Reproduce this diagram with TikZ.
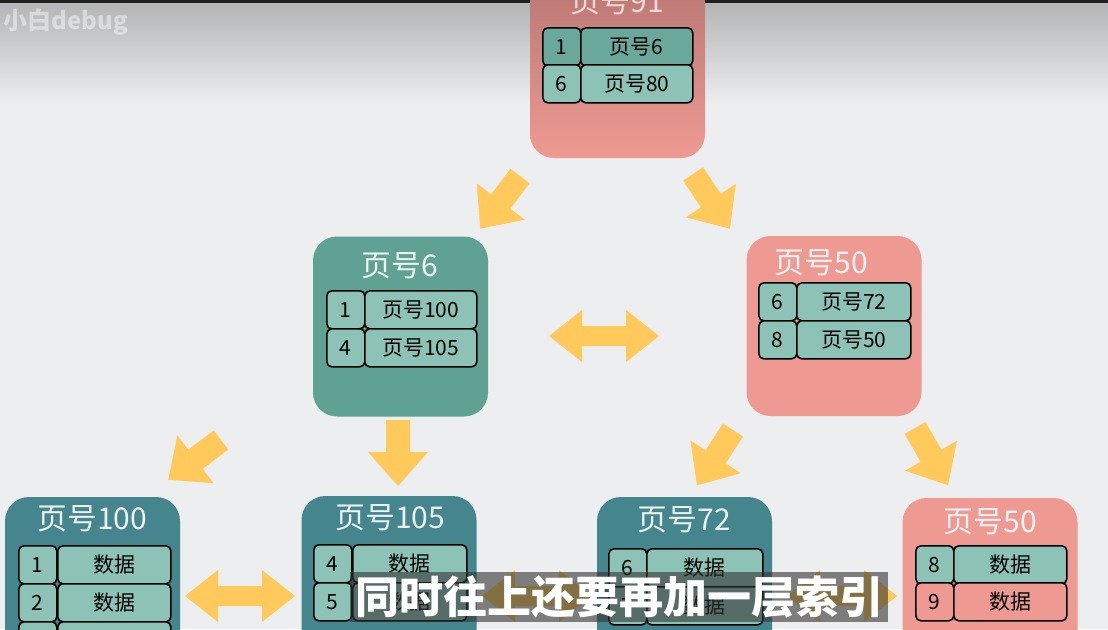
\documentclass[tikz,border=0pt]{standalone}
\usepackage{fontspec}
\setmainfont{Noto Sans CJK SC}
\usepackage{tikz}
\usetikzlibrary{positioning}
\definecolor{bgcol}{HTML}{ECEEF0}
\definecolor{bgtop}{HTML}{B2B3B5}
\definecolor{arrowyellow}{HTML}{FFC95C}
\definecolor{pinkbox}{HTML}{EE9A92}
\definecolor{pinktop}{HTML}{B97773}
\definecolor{tealmid}{HTML}{5FA193}
\definecolor{tealdark}{HTML}{44858E}
\definecolor{cellteal}{HTML}{8CC3B6}
\definecolor{celltop}{HTML}{6BA89C}
\definecolor{titlelight}{HTML}{EEF3F1}

\tikzset{
  pagebox/.style={rounded corners=24pt, minimum width=175pt, minimum height=180pt, inner sep=0pt},
  ptitle/.style={text=titlelight, font=\fontsize{30}{30}\selectfont, inner sep=0pt},
  keycell/.style={draw=black, line width=1.6pt, rounded corners=5pt, fill=cellteal,
    minimum width=38pt, minimum height=38pt, inner sep=1pt, anchor=north west,
    font=\fontsize{21}{21}\selectfont},
  valcell/.style={keycell, minimum width=112pt},
  onearrow/.pic={
    \fill[arrowyellow] (0,-12) -- (32,-12) -- (32,-30) -- (66,0) -- (32,30)
      -- (32,12) -- (0,12) -- cycle;
  },
  twoarrow/.pic={
    \fill[arrowyellow] (-55,0) -- (-22,-26) -- (-22,-10) -- (22,-10) -- (22,-26)
      -- (55,0) -- (22,26) -- (22,10) -- (-22,10) -- (-22,26) -- cycle;
  }
}

\begin{document}
\begin{tikzpicture}[x=1pt, y=-1pt]
  \useasboundingbox (0,0) rectangle (1108,629);
  \clip (0,0) rectangle (1108,629);
  \fill[bgcol] (0,0) rectangle (1108,629);
  \shade[top color=bgtop, bottom color=bgcol] (0,0) rectangle (1108,105);
  \fill[black!75!gray] (0,0) rectangle (1108,3);
  \node[text=white, opacity=0.45, font=\bfseries\fontsize{24}{24}\selectfont, anchor=west] (mark) at (0,22) {小白debug};

  % root page
  \node[pagebox, top color=pinktop, bottom color=pinkbox] (p91) at (617.5,68) {};
  \node[ptitle, text=titlelight!70!pinkbox] (p91t) at (617,2) {页号91};
  \foreach \r/\k/\v/\c [count=\i] in {27/1/页号6/celltop, 64/6/页号80/cellteal}{
    \node[keycell, fill=\c] (p91k\i) at (542,\r) {\k};
    \node[valcell, fill=\c] (p91v\i) at (580,\r) {\v};
  }

  % second level
  \node[pagebox, fill=tealmid] (p6) at (400.5,326.5) {};
  \node[ptitle] (p6t) at (400,266) {页号6};
  \foreach \r/\k/\v [count=\i] in {290/1/页号100, 328/4/页号105}{
    \node[keycell] (p6k\i) at (326,\r) {\k};
    \node[valcell] (p6v\i) at (364,\r) {\v};
  }

  \node[pagebox, fill=pinkbox] (p50) at (834,326) {};
  \node[ptitle] (p50t) at (821,263) {页号50};
  \foreach \r/\k/\v [count=\i] in {282/6/页号72, 320/8/页号50}{
    \node[keycell] (p50k\i) at (758,\r) {\k};
    \node[valcell, minimum width=114pt] (p50v\i) at (796,\r) {\v};
  }

  % leaf pages
  \node[pagebox, fill=tealdark] (p100) at (92.5,587) {};
  \node[ptitle] (p100t) at (92,519) {页号100};
  \foreach \r/\k/\v [count=\i] in {545/1/数据, 583/2/数据, 621//}{
    \node[keycell] (p100k\i) at (18,\r) {\k};
    \node[valcell, minimum width=113pt] (p100v\i) at (57,\r) {\v};
  }

  \node[pagebox, fill=tealdark] (p105) at (389,586) {};
  \node[ptitle] (p105t) at (390,518) {页号105};
  \foreach \r/\k/\v [count=\i] in {544/4/数据, 582/5/数据}{
    \node[keycell] (p105k\i) at (313,\r) {\k};
    \node[valcell, minimum width=114pt] (p105v\i) at (352,\r) {\v};
  }

  \node[pagebox, fill=tealdark] (p72) at (684.5,587) {};
  \node[ptitle] (p72t) at (684,520) {页号72};
  \foreach \r/\k/\v [count=\i] in {548/6/数据, 586/7/数据}{
    \node[keycell] (p72k\i) at (608,\r) {\k};
    \node[valcell, minimum width=116pt] (p72v\i) at (646,\r) {\v};
  }

  \node[pagebox, fill=pinkbox] (p50b) at (990,588) {};
  \node[ptitle] (p50bt) at (990,522) {页号50};
  \foreach \r/\k/\v/\c [count=\i] in {545/8/数据/cellteal, 582/9/数据/pinkbox}{
    \node[keycell, fill=\c] (p50bk\i) at (915,\r) {\k};
    \node[valcell, fill=\c, minimum width=113pt] (p50bv\i) at (953,\r) {\v};
  }

  % arrows
  \pic[rotate=233] (a1) at (520,176) {onearrow};
  \pic[rotate=-56] (a2) at (693,174) {onearrow};
  \pic[rotate=-143] (a3) at (221,440) {onearrow};
  \pic[rotate=-90] (a4) at (398,420) {onearrow};
  \pic[rotate=-123] (a5) at (733,430) {onearrow};
  \pic[rotate=-60] (a6) at (915,428) {onearrow};
  \pic (b1) at (604,336) {twoarrow};
  \pic (b2) at (240,596) {twoarrow};
  \pic (b3) at (537,596) {twoarrow};
  \pic (b4) at (842,596) {twoarrow};

  % subtitle
  \node[fill=black!80, fill opacity=0.6, text opacity=1, text=white, inner sep=0pt,
    minimum width=538pt, minimum height=50pt,
    font=\bfseries\fontsize{44}{44}\selectfont] (sub) at (619,597) {同时往上还要再加一层索引};
\end{tikzpicture}
\end{document}
